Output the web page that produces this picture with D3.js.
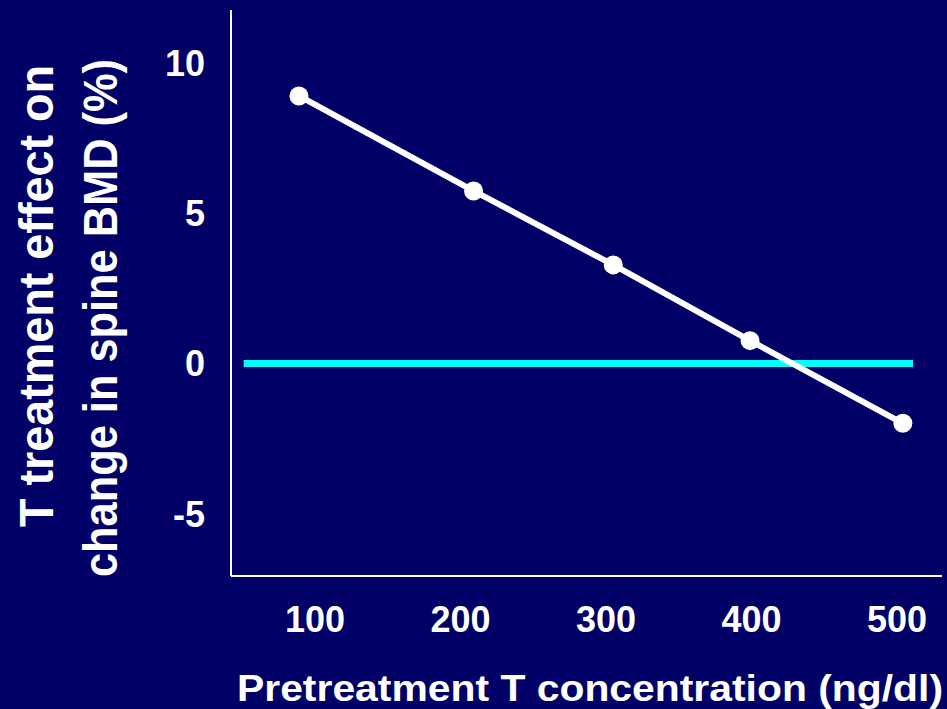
<!DOCTYPE html>
<html>
<head>
<meta charset="utf-8">
<script src="https://cdn.jsdelivr.net/npm/d3@7"></script>
<style>
  html, body { margin: 0; padding: 0; background: #000066; }
  svg { display: block; }
</style>
</head>
<body>
<svg id="chart" width="947" height="709"></svg>
<script>
// data
var concentration = [89, 209, 305, 399, 504];
var effect = [8.9, 5.74, 3.28, 0.76, -1.99];
var xTicks = [100, 200, 300, 400, 500];
var yTicks = [10, 5, 0, -5];
var refLine = [51, 511];   // zero line extent, ng/dl

var svg = d3.select("#chart");
var font = "'Liberation Sans', Arial, Helvetica, sans-serif";

svg.append("rect")
    .attr("width", 947)
    .attr("height", 709)
    .attr("fill", "#000066");

var x = d3.scaleLinear()
    .domain([42.3, 530.9])
    .range([231, 942]);

var y = d3.scaleLinear()
    .domain([-7.07, 11.76])
    .range([576, 10]);

// axes lines
svg.append("line")
    .attr("x1", x.range()[0]).attr("x2", x.range()[0])
    .attr("y1", y.range()[0]).attr("y2", y.range()[1])
    .attr("stroke", "white")
    .attr("stroke-width", 2);

svg.append("line")
    .attr("x1", x.range()[0]).attr("x2", x.range()[1])
    .attr("y1", y.range()[0]).attr("y2", y.range()[0])
    .attr("stroke", "white")
    .attr("stroke-width", 2);

// tick labels
svg.append("g")
  .selectAll("text")
  .data(yTicks)
  .enter().append("text")
    .attr("x", 205)
    .attr("y", function(d) { return y(d); })
    .attr("dy", "0.36em")
    .attr("text-anchor", "end")
    .style("font", "bold 36px " + font)
    .attr("fill", "white")
    .text(function(d) { return d; });

svg.append("g")
  .selectAll("text")
  .data(xTicks)
  .enter().append("text")
    .attr("x", function(d) { return x(d); })
    .attr("y", 632)
    .attr("text-anchor", "middle")
    .style("font", "bold 36px " + font)
    .attr("fill", "white")
    .text(function(d) { return d; });

// zero reference line
svg.append("line")
    .attr("x1", x(refLine[0])).attr("x2", x(refLine[1]))
    .attr("y1", y(0)).attr("y2", y(0))
    .attr("stroke", "#00ffff")
    .attr("stroke-width", 7);

// data line + points
var pts = concentration.map(function(c, i) { return [c, effect[i]]; });

svg.append("path")
    .datum(pts)
    .attr("fill", "none")
    .attr("stroke", "white")
    .attr("stroke-width", 6)
    .attr("d", d3.line()
      .x(function(d) { return x(d[0]); })
      .y(function(d) { return y(d[1]); }));

svg.append("g")
  .selectAll("circle")
  .data(pts)
  .enter().append("circle")
    .attr("cx", function(d) { return x(d[0]); })
    .attr("cy", function(d) { return y(d[1]); })
    .attr("r", 9.5)
    .attr("fill", "white");

// axis titles
svg.append("text")
    .attr("x", 237)
    .attr("y", 701)
    .attr("textLength", 706)
    .attr("lengthAdjust", "spacingAndGlyphs")
    .style("font", "bold 37px " + font)
    .attr("fill", "white")
    .text("Pretreatment T concentration (ng/dl)");

svg.append("text")
    .attr("transform", "translate(53,527) rotate(-90)")
    .attr("textLength", 462)
    .attr("lengthAdjust", "spacingAndGlyphs")
    .style("font", "bold 48px " + font)
    .attr("fill", "white")
    .text("T treatment effect on");

svg.append("text")
    .attr("transform", "translate(117,577) rotate(-90)")
    .attr("textLength", 518)
    .attr("lengthAdjust", "spacingAndGlyphs")
    .style("font", "bold 48px " + font)
    .attr("fill", "white")
    .text("change in spine BMD (%)");
</script>
</body>
</html>
